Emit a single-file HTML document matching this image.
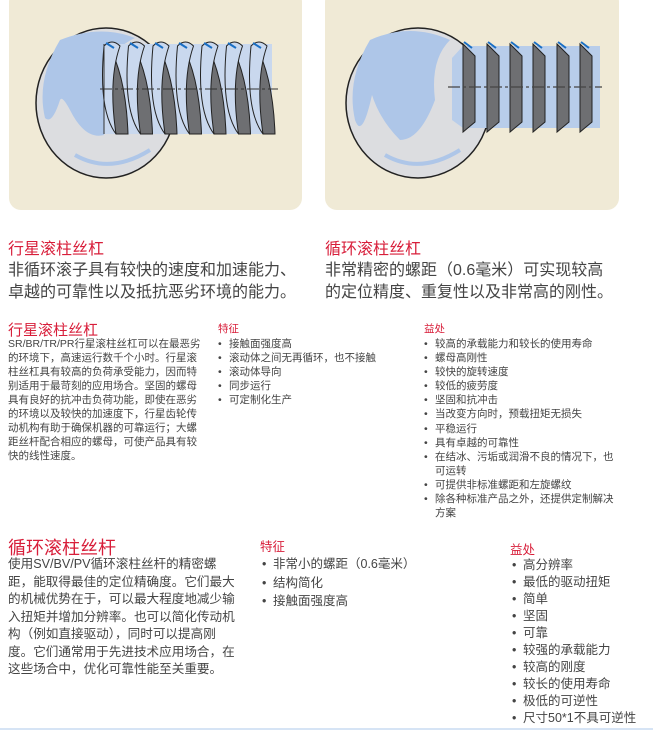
<!DOCTYPE html>
<html><head><meta charset="utf-8">
<style>
body{margin:0;width:653px;height:730px;background:#fff;position:relative;overflow:hidden;font-family:"Liberation Sans","Noto Sans CJK SC",sans-serif;}
.a{position:absolute;white-space:nowrap;}
.red{color:#d81e3a;}
.g{color:#444;}
ul{list-style:none;margin:0;padding:0;}
li:before{content:"•";position:absolute;margin-left:-11px;}
</style></head><body>
<svg class="a" style="left:0;top:0" width="653" height="215">
<rect x="9" y="-10" width="293" height="220" rx="12" fill="#f0ead6"/>
<rect x="325" y="-10" width="294" height="220" rx="12" fill="#f0ead6"/>
<ellipse cx="106" cy="103" rx="70" ry="75" fill="#dcdde0" stroke="#222" stroke-width="1.5"/>
<path d="M60 40 Q100 24 135 38 Q110 50 104 70 L104 135 Q85 140 70 110 Q62 95 60 100 Q52 125 45 118 Q36 80 60 40Z" fill="#aec6e8"/>
<path d="M75 155 Q110 175 150 150" fill="none" stroke="#aec6e8" stroke-width="4"/>
<g stroke="#222" stroke-width="1">
<rect x="104" y="44" width="168" height="90" fill="#c9d8ee" stroke="none"/>
<g id="t">
<path d="M108 44 Q126 76 128 134 L116 134 Q106 96 108 44Z" fill="#6e6f72"/>
<path d="M104 46 Q112 38 120 46 Q108 80 116 134 Q98 110 104 46Z" fill="#c9d8ee"/>
</g>
<use href="#t" x="24.5"/><use href="#t" x="49"/><use href="#t" x="73.5"/><use href="#t" x="98"/><use href="#t" x="122.5"/><use href="#t" x="147"/>
</g>
<g stroke="#1a6fc4" stroke-width="2"><path d="M106 43l8 5M130 43l8 5M155 43l8 5M179 43l8 5M204 43l8 5M228 43l8 5M253 43l8 5"/></g>
<line x1="100" y1="89" x2="278" y2="89" stroke="#333" stroke-dasharray="12,3,3,3"/>
<line x1="104" y1="44" x2="104" y2="134" stroke="#333"/>
<ellipse cx="418" cy="103" rx="72" ry="75" fill="#dcdde0" stroke="#222" stroke-width="1.5"/>
<path d="M370 40 Q410 22 450 40 Q430 60 435 100 Q420 140 400 140 Q380 120 372 95 Q362 140 355 120 Q346 80 370 40Z" fill="#aec6e8"/>
<path d="M385 155 Q420 175 460 150" fill="none" stroke="#aec6e8" stroke-width="4"/>
<path d="M452 58 L463 46 L600 46 L600 128 L463 128 L452 120Z" fill="#b8cdea"/>
<g fill="#6e6f72" stroke="#222" stroke-width="1">
<path d="M463 44 L475 56 L475 122 L463 132Z"/><path d="M487 44 L499 56 L499 122 L487 132Z"/><path d="M510 44 L522 56 L522 122 L510 132Z"/><path d="M533 44 L545 56 L545 122 L533 132Z"/><path d="M557 44 L569 56 L569 122 L557 132Z"/><path d="M580 44 L592 56 L592 122 L580 132Z"/>
</g>
<g stroke="#1a6fc4" stroke-width="2"><path d="M464 42l8 6M488 42l8 6M511 42l8 6M534 42l8 6M558 42l8 6M581 42l8 6"/></g>
<line x1="448" y1="87" x2="602" y2="87" stroke="#444" stroke-width="1.3" stroke-dasharray="12,3,3,3"/>
</svg>

<div class="a red" style="left:8px;top:235px;font-size:16px;">行星滚柱丝杠</div>
<div class="a red" style="left:325px;top:235px;font-size:16px;">循环滚柱丝杠</div>
<div class="a g" style="left:8px;top:260px;font-size:16px;line-height:22px;">非循环滚子具有较快的速度和加速能力、<br>卓越的可靠性以及抵抗恶劣环境的能力。</div>
<div class="a g" style="left:325px;top:260px;font-size:16px;line-height:22px;">非常精密的螺距（0.6毫米）可实现较高<br>的定位精度、重复性以及非常高的刚性。</div>

<div class="a red" style="left:8px;top:319px;font-size:15px;">行星滚柱丝杠</div>
<div class="a g" style="left:8px;top:337px;font-size:10.5px;line-height:14px;">SR/BR/TR/PR行星滚柱丝杠可以在最恶劣<br>的环境下，高速运行数千个小时。行星滚<br>柱丝杠具有较高的负荷承受能力，因而特<br>别适用于最苛刻的应用场合。坚固的螺母<br>具有良好的抗冲击负荷功能，即使在恶劣<br>的环境以及较快的加速度下，行星齿轮传<br>动机构有助于确保机器的可靠运行；大螺<br>距丝杆配合相应的螺母，可使产品具有较<br>快的线性速度。</div>
<div class="a red" style="left:218px;top:321px;font-size:10.5px;">特征</div>
<ul class="a g" style="left:229px;top:337px;font-size:10.5px;line-height:14px;"><li>接触面强度高</li><li>滚动体之间无再循环，也不接触</li><li>滚动体导向</li><li>同步运行</li><li>可定制化生产</li></ul>
<div class="a red" style="left:424px;top:321px;font-size:10.5px;">益处</div>
<ul class="a g" style="left:435px;top:337px;font-size:10.5px;line-height:14.1px;"><li>较高的承载能力和较长的使用寿命</li><li>螺母高刚性</li><li>较快的旋转速度</li><li>较低的疲劳度</li><li>坚固和抗冲击</li><li>当改变方向时，预载扭矩无损失</li><li>平稳运行</li><li>具有卓越的可靠性</li><li>在结冰、污垢或润滑不良的情况下，也<br>可运转</li><li>可提供非标准螺距和左旋螺纹</li><li>除各种标准产品之外，还提供定制解决<br>方案</li></ul>

<div class="a red" style="left:8px;top:534px;font-size:18px;">循环滚柱丝杆</div>
<div class="a g" style="left:8px;top:556px;font-size:12.6px;line-height:17.5px;">使用SV/BV/PV循环滚柱丝杆的精密螺<br>距，能取得最佳的定位精确度。它们最大<br>的机械优势在于，可以最大程度地减少输<br>入扭矩并增加分辨率。也可以简化传动机<br>构（例如直接驱动），同时可以提高刚<br>度。它们通常用于先进技术应用场合，在<br>这些场合中，优化可靠性能至关重要。</div>
<div class="a red" style="left:260px;top:536px;font-size:12.5px;">特征</div>
<ul class="a g" style="left:273px;top:555px;font-size:12.5px;line-height:18.5px;"><li>非常小的螺距（0.6毫米）</li><li>结构简化</li><li>接触面强度高</li></ul>
<div class="a red" style="left:510px;top:539px;font-size:12.5px;">益处</div>
<ul class="a g" style="left:523px;top:557px;font-size:12.5px;line-height:17px;"><li>高分辨率</li><li>最低的驱动扭矩</li><li>简单</li><li>坚固</li><li>可靠</li><li>较强的承载能力</li><li>较高的刚度</li><li>较长的使用寿命</li><li>极低的可逆性</li><li>尺寸50*1不具可逆性</li></ul>
<div class="a" style="left:0;top:728px;width:653px;height:2px;background:#d6e4f5"></div>
</body></html>
